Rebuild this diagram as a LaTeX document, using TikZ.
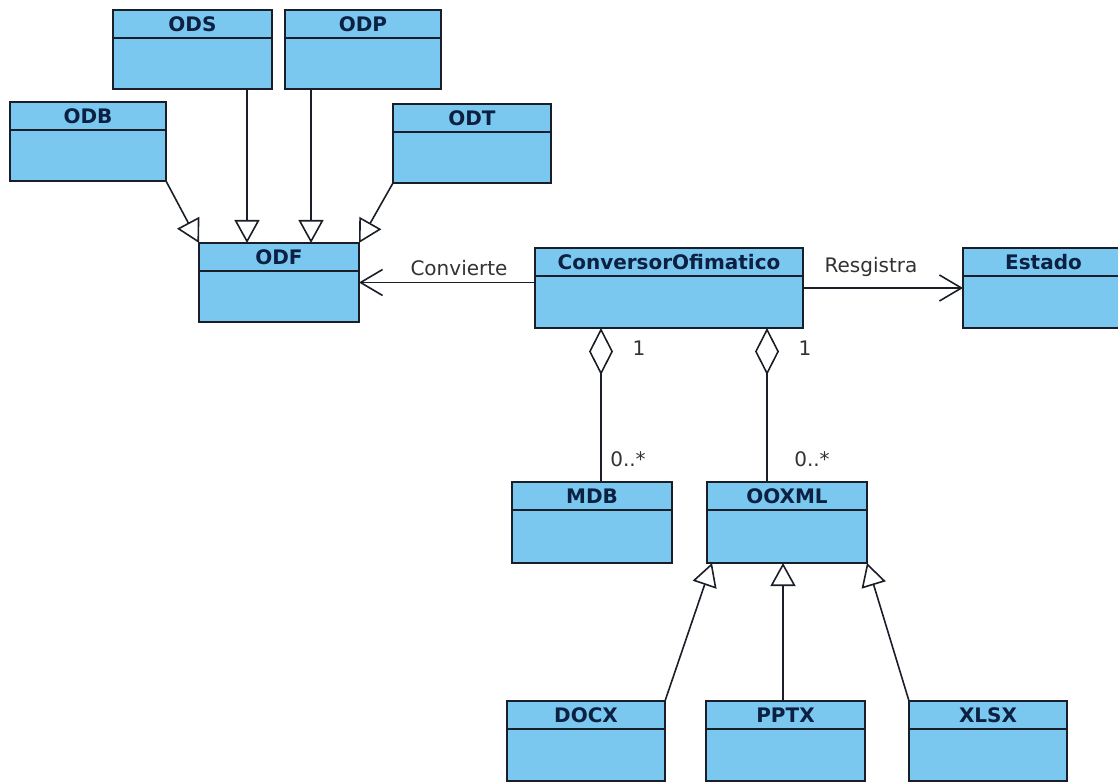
\documentclass[tikz,border=0pt]{standalone}
\usepackage{fontspec}
\setmainfont{DejaVu Sans}
\usetikzlibrary{arrows.meta}

\definecolor{classfill}{RGB}{122,200,240}
\definecolor{classtext}{RGB}{12,32,66}
\definecolor{edgecol}{RGB}{25,30,40}
\definecolor{labelcol}{RGB}{50,50,50}

\tikzset{
  classbox/.style={draw=edgecol, fill=classfill, line width=1.8pt,
    rectangle, inner sep=0pt, outer sep=0pt},
  classline/.style={draw=edgecol, line width=1.8pt},
  classname/.style={font=\fontsize{20}{22}\selectfont\bfseries,
    text=classtext, inner sep=0pt},
  rolelabel/.style={font=\fontsize{20}{22}\selectfont, text=labelcol, inner sep=0pt},
  gen/.style={draw=edgecol, line width=1.6pt,
    -{Triangle[open, length=23pt, width=25pt, line width=1.6pt]}},
  assoc/.style={draw=edgecol, line width=1.6pt,
    -{Straight Barb[length=22pt, width=26pt, line width=1.6pt]}},
  aggr/.style={draw=edgecol, line width=1.6pt,
    {Diamond[open, length=47pt, width=24pt, line width=1.6pt]}-},
}

% \umlclass{name}{left}{top}{right}{bottom}{title}
\newcommand{\umlclass}[6]{%
  \node[classbox, minimum width={#4-#2}, minimum height={#5-#3}]
    (#1) at ({(#2+#4)/2},{(#3+#5)/2}) {};
  \draw[classline] ([yshift=-28pt]#1.north west) -- ([yshift=-28pt]#1.north east);
  \node[classname] (#1-name) at ([yshift=-14pt]#1.north) {#6};
}

\begin{document}
\begin{tikzpicture}[x=1pt, y=-1pt]
  \useasboundingbox (0,0) rectangle (1118,783);
  \clip (0,0) rectangle (1118,783);

  % ODF family
  \umlclass{ods}{113}{10}{272}{89}{ODS}
  \umlclass{odp}{285}{10}{441}{89}{ODP}
  \umlclass{odb}{10}{102}{166}{181}{ODB}
  \umlclass{odt}{393}{104}{551}{183}{ODT}
  \umlclass{odf}{199}{243}{359}{322}{ODF}

  % converter and state
  \umlclass{conv}{535}{248}{803}{328}{ConversorOfimatico}
  \umlclass{estado}{963}{248}{1124}{328}{Estado}

  % aggregated formats
  \umlclass{mdb}{512}{482}{672}{563}{MDB}
  \umlclass{ooxml}{707}{482}{867}{563}{OOXML}

  % OOXML family
  \umlclass{docx}{507}{701}{665}{781}{DOCX}
  \umlclass{pptx}{706}{701}{865}{781}{PPTX}
  \umlclass{xlsx}{909}{701}{1067}{781}{XLSX}

  % columns of the vertical connectors
  \coordinate (colods) at (247,0);
  \coordinate (colodp) at (311,0);
  \coordinate (colmdb) at (601,0);
  \coordinate (colooxml) at (767,0);
  \coordinate (colpptx) at (783,0);

  % generalisations into ODF
  \draw[gen] (odb.south east) -- (odf.north west);
  \draw[gen] (colods |- ods.south) -- (colods |- odf.north);
  \draw[gen] (colodp |- odp.south) -- (colodp |- odf.north);
  \draw[gen] (odt.south west) -- (odf.north east);

  % associations
  \draw[assoc] (conv.west |- odf.east) -- (odf.east);
  \node[rolelabel] (convierte) at (459,268) {Convierte};
  \draw[assoc] (conv.east) -- (estado.west);
  \node[rolelabel] (registra) at (871,267) {Resgistra};

  % aggregations
  \draw[aggr] (colmdb |- conv.south) -- (colmdb |- mdb.north);
  \draw[aggr] (colooxml |- conv.south) -- (colooxml |- ooxml.north);
  \node[rolelabel] (one-a) at (639,348) {1};
  \node[rolelabel] (one-b) at (805,348) {1};
  \node[rolelabel] (many-a) at (628,459) {0..*};
  \node[rolelabel] (many-b) at (812,459) {0..*};

  % generalisations into OOXML
  \draw[gen] (docx.north east) -- ([xshift=5pt]ooxml.south west);
  \draw[gen] (colpptx |- pptx.north) -- (colpptx |- ooxml.south);
  \draw[gen] (xlsx.north west) -- (ooxml.south east);
\end{tikzpicture}
\end{document}
